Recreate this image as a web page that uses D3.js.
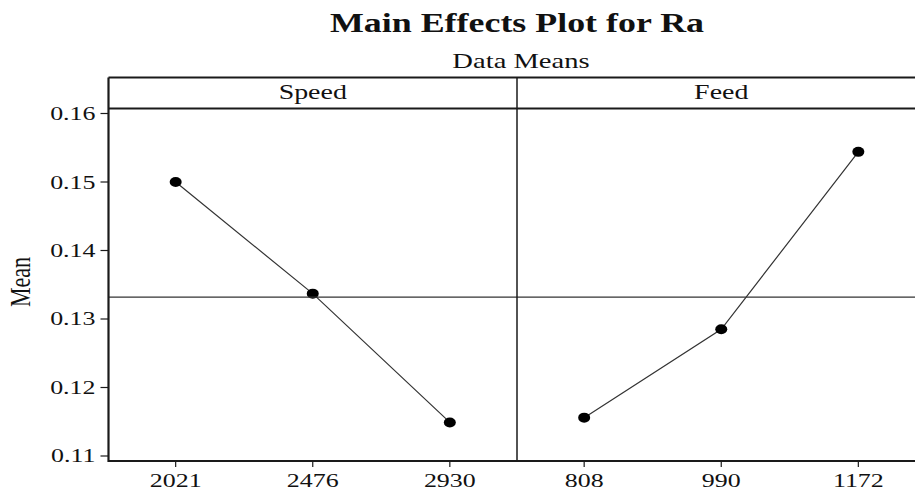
<!DOCTYPE html>
<html>
<head>
<meta charset="utf-8">
<script src="https://cdn.jsdelivr.net/npm/d3@7"></script>
<style>
  html, body { margin: 0; padding: 0; background: #fff; }
  svg { display: block; }
  text { font-family: "Liberation Serif", "DejaVu Serif", serif; fill: #111; }
</style>
</head>
<body>
<svg id="chart" width="915" height="491"></svg>
<script>
// Factor levels and mean response (Ra) at each level
const speedLevels = ["2021", "2476", "2930"];
const speedMeans = [0.1500, 0.1337, 0.1149];
const feedLevels = ["808", "990", "1172"];
const feedMeans = [0.1156, 0.1285, 0.1544];
const grandMean = 0.1332;
const yTicks = [0.11, 0.12, 0.13, 0.14, 0.15, 0.16];
const yDomain = [0.10927, 0.16073];

const panels = [
  { name: "Speed", levels: speedLevels, means: speedMeans },
  { name: "Feed", levels: feedLevels, means: feedMeans }
];

// Text is drawn slightly widened horizontally
const SX = 1.33;
const ink = "#1a1a1a";

const svg = d3.select("#chart");
const frameLeft = 108.5, frameTop = 77.5, stripH = 31, plotBottom = 461;
const panelW = 408.5;
const plotTop = frameTop + stripH;

const y = d3.scaleLinear().domain(yDomain).range([plotBottom, plotTop]);

function wideText(g, x, yy, str, size, opts = {}) {
  const t = g.append("text")
    .attr("transform", `translate(${x},${yy}) scale(${SX},1)`)
    .attr("text-anchor", opts.anchor || "middle")
    .attr("font-size", size)
    .text(str);
  if (opts.bold) t.attr("font-weight", "bold");
  return t;
}

// Titles
wideText(svg, 517, 31.5, "Main Effects Plot for Ra", 27, { bold: true });
wideText(svg, 521, 68, "Data Means", 21.5);

// Y axis label (narrow along its length)
svg.append("text")
  .attr("transform", `translate(30,282) rotate(-90) scale(1,${SX})`)
  .attr("text-anchor", "middle")
  .attr("font-size", 22)
  .text("Mean");

// Y axis ticks and labels
const yAxis = svg.append("g");
yTicks.forEach(v => {
  yAxis.append("line")
    .attr("x1", frameLeft - 8).attr("x2", frameLeft)
    .attr("y1", y(v)).attr("y2", y(v))
    .attr("stroke", ink).attr("stroke-width", 1.2);
  wideText(yAxis, frameLeft - 13, y(v) + 6.5, d3.format(".2f")(v), 19.5, { anchor: "end" });
});

panels.forEach((p, i) => {
  const x0 = frameLeft + i * panelW;
  const x = d3.scalePoint().domain(p.levels).range([x0, x0 + panelW]).padding(0.49);
  const g = svg.append("g");

  // strip label
  wideText(g, x0 + panelW / 2, 98.5, p.name, 21);

  // x ticks and labels
  p.levels.forEach(l => {
    g.append("line")
      .attr("x1", x(l)).attr("x2", x(l))
      .attr("y1", plotBottom).attr("y2", plotBottom + 6)
      .attr("stroke", ink).attr("stroke-width", 1.2);
    wideText(g, x(l), 487, l, 19.5);
  });

  // connecting line
  const pts = p.levels.map((l, k) => [x(l), y(p.means[k])]);
  g.append("path")
    .attr("d", d3.line()(pts))
    .attr("fill", "none")
    .attr("stroke", "#333")
    .attr("stroke-width", 1.2);

  g.selectAll("ellipse").data(pts).join("ellipse")
    .attr("cx", d => d[0]).attr("cy", d => d[1])
    .attr("rx", 6).attr("ry", 5)
    .attr("fill", "#000");
});

// Grand mean reference line
svg.append("line")
  .attr("x1", frameLeft).attr("x2", 915)
  .attr("y1", y(grandMean)).attr("y2", y(grandMean))
  .attr("stroke", "#333").attr("stroke-width", 1.2);

// Frame: outer border, strip separator and panel divider
const frame = svg.append("g").attr("stroke", ink).attr("fill", "none");
frame.append("line").attr("x1", frameLeft).attr("x2", 915).attr("y1", frameTop).attr("y2", frameTop).attr("stroke-width", 2);
frame.append("line").attr("x1", frameLeft).attr("x2", 915).attr("y1", plotTop).attr("y2", plotTop).attr("stroke-width", 2);
frame.append("line").attr("x1", frameLeft).attr("x2", frameLeft).attr("y1", frameTop).attr("y2", plotBottom + 1).attr("stroke-width", 2.2);
frame.append("line").attr("x1", frameLeft).attr("x2", 915).attr("y1", plotBottom).attr("y2", plotBottom).attr("stroke-width", 2);
frame.append("line").attr("x1", frameLeft + panelW).attr("x2", frameLeft + panelW).attr("y1", frameTop).attr("y2", plotBottom).attr("stroke-width", 1.5);
</script>
</body>
</html>
